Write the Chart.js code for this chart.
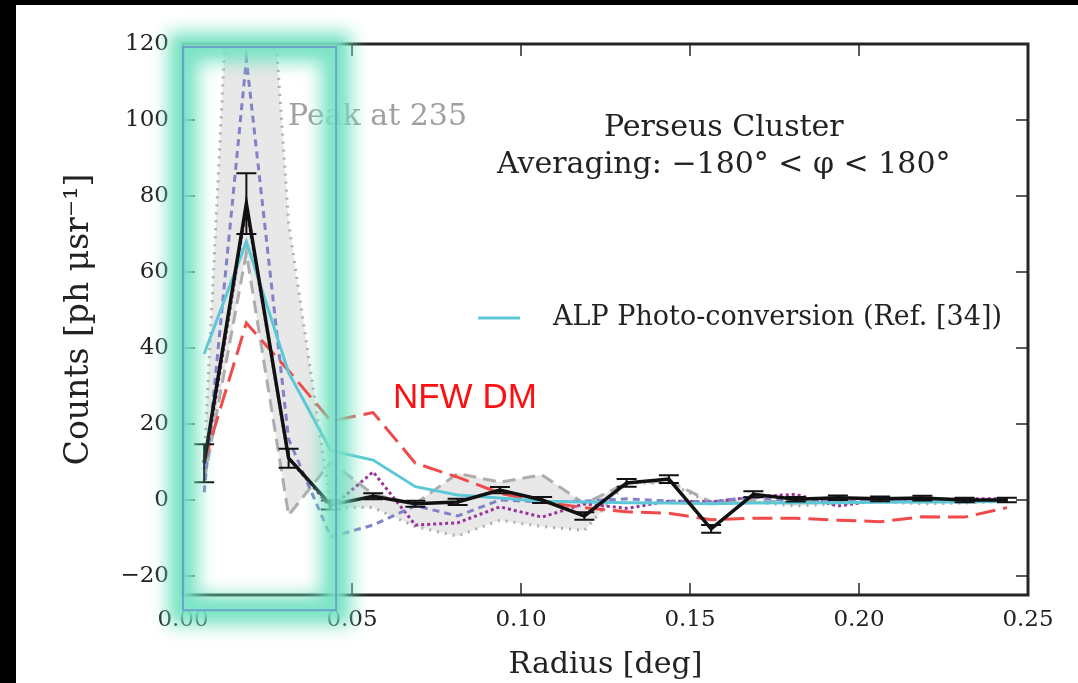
<!DOCTYPE html>
<html>
<head>
<meta charset="utf-8">
<title>Perseus Cluster radial profile</title>
<script src="https://cdn.jsdelivr.net/npm/chart.js@4.4.0/dist/chart.umd.min.js"></script>
<style>
  html, body { margin: 0; padding: 0; background: #fff; }
  #wrap { width: 1078px; height: 683px; position: relative; }
</style>
</head>
<body>
<div id="wrap"><canvas id="profile"></canvas></div>
<script>
// bin centres (deg)
const radius = [0.00625, 0.01875, 0.03125, 0.04375, 0.05625, 0.06875, 0.08125, 0.09375, 0.10625, 0.11875,
                0.13125, 0.14375, 0.15625, 0.16875, 0.18125, 0.19375, 0.20625, 0.21875, 0.23125, 0.24375];

// measured counts + error bars
const counts    = [9.7, 78, 11, -1.3, 1, -1, -0.5, 2.6, 0, -4.2, 4.5, 5.5, -7.6, 1.5, 0.2, 0.6, 0.3, 0.5, 0, 0];
const countsErr = [5, 8, 2.5, 1.2, 0.8, 0.8, 0.8, 0.8, 0.8, 1, 1, 1, 1, 0.8, 0.6, 0.6, 0.6, 0.6, 0.6, 0.6];

// models
const alpConv = [38.4, 68, 33.5, 13, 10.5, 3.5, 1.3, 0.5, -0.3, -0.5, -0.7, -0.8, -1, -0.8, -0.7, -0.7, -0.6, -0.5, -0.5, -0.3];
const nfwDm   = [10, 46.6, 34, 20.8, 23, 9.7, 6, 1.8, -0.5, -2, -3.1, -3.5, -5.2, -4.8, -4.8, -5.3, -5.7, -4.4, -4.5, -2];
const dashedModel = [2, 116, 16, -9.7, -6.6, -1.5, -4.2, 0, -0.5, -0.3, 0.3, -0.3, -0.5, 0.8, -0.4, -0.4, -0.4, -0.3, -0.2, 0];
const dottedModel = [8, 77, 11, -2, 7.4, -6.6, -6, -1.8, -4.5, -1, -2.2, -0.3, -0.5, 0.8, 1.5, -1.6, 0, 0, 0.3, 0.3];

// grey band edges
const bandDotted = [10, 235, 73, -2, -2, -7, -9.5, -5.3, -7, -8, 4.5, 4.5, -1, -0.5, -1.6, -1, -0.5, -1, -0.8, -0.3];
const bandDashed = [5, 65, -4, 10, 1.5, -1, 7, 4.7, 6.6, -1, 4.5, 5, -0.5, 0, -0.8, 0, 0.3, 0, 0, 0];

const xTicks = [0, 0.05, 0.10, 0.15, 0.20, 0.25];
const yTicks = [-20, 0, 20, 40, 60, 80, 100, 120];

const serif = '"DejaVu Serif", serif';

function pts(arr) {
    return arr.map((v, i) => ({ x: radius[i], y: v }));
}

// text placed in data units
const notes = [
    { text: 'Peak at 235', x: 0.0311, y: 100.8, align: 'left', font: '30px ' + serif, color: '#a0a0a0' },
    { text: 'Perseus Cluster', x: 0.160, y: 97.9, align: 'center', font: '30px ' + serif, color: '#222' },
    { text: 'Averaging: \u2212180\u00b0 < \u03c6 < 180\u00b0', x: 0.160, y: 88.2, align: 'center', font: '30px ' + serif, color: '#222' },
    { text: 'NFW DM', x: 0.0834, y: 26.8, align: 'center', font: '35px "Liberation Sans", Arial, sans-serif', color: '#ff1010' }
];
const legendLine = { x0: 0.0873, x1: 0.0997, y: 47.9, textX: 0.1095 };
const glowBox = { x0: 0, x1: 0.0453, y0: -29, y1: 119.2 };

const decor = {
    id: 'decor',
    beforeDraw(chart) {
        const ctx = chart.ctx;
        ctx.save();
        ctx.fillStyle = '#fff';
        ctx.fillRect(0, 0, chart.width, chart.height);
        ctx.fillStyle = '#000';
        ctx.fillRect(0, 0, chart.width, 5);
        ctx.fillRect(0, 0, 16, chart.height);
        ctx.restore();
    },
    afterDatasetsDraw(chart) {
        // error bars on the measured profile
        const ctx = chart.ctx;
        const xs = chart.scales.x, ys = chart.scales.y;
        ctx.save();
        ctx.strokeStyle = '#111';
        ctx.lineWidth = 2;
        counts.forEach((v, i) => {
            const px = xs.getPixelForValue(radius[i]);
            const top = ys.getPixelForValue(v + countsErr[i]);
            const bot = ys.getPixelForValue(v - countsErr[i]);
            ctx.beginPath();
            ctx.moveTo(px, top); ctx.lineTo(px, bot);
            ctx.moveTo(px - 10, top); ctx.lineTo(px + 10, top);
            ctx.moveTo(px - 10, bot); ctx.lineTo(px + 10, bot);
            ctx.stroke();
        });
        ctx.restore();
    },
    afterDraw(chart) {
        const ctx = chart.ctx;
        const a = chart.chartArea;
        const xs = chart.scales.x, ys = chart.scales.y;
        ctx.save();

        // frame with inward ticks
        ctx.strokeStyle = '#262626';
        ctx.lineWidth = 3;
        ctx.strokeRect(a.left, a.top, a.right - a.left, a.bottom - a.top);
        ctx.lineWidth = 1.5;
        ctx.beginPath();
        xTicks.forEach(t => {
            const px = xs.getPixelForValue(t);
            ctx.moveTo(px, a.bottom); ctx.lineTo(px, a.bottom - 12);
            ctx.moveTo(px, a.top); ctx.lineTo(px, a.top + 12);
        });
        yTicks.forEach(t => {
            const py = ys.getPixelForValue(t);
            ctx.moveTo(a.left, py); ctx.lineTo(a.left + 12, py);
            ctx.moveTo(a.right, py); ctx.lineTo(a.right - 12, py);
        });
        ctx.stroke();

        // texts
        ctx.textBaseline = 'middle';
        notes.forEach(n => {
            ctx.font = n.font;
            ctx.fillStyle = n.color;
            ctx.textAlign = n.align;
            ctx.fillText(n.text, xs.getPixelForValue(n.x), ys.getPixelForValue(n.y));
        });

        // legend
        const ly = ys.getPixelForValue(legendLine.y);
        ctx.strokeStyle = '#5cc8d6';
        ctx.lineWidth = 3;
        ctx.beginPath();
        ctx.moveTo(xs.getPixelForValue(legendLine.x0), ly);
        ctx.lineTo(xs.getPixelForValue(legendLine.x1), ly);
        ctx.stroke();
        ctx.font = '27px ' + serif;
        ctx.fillStyle = '#222';
        ctx.textAlign = 'left';
        ctx.fillText('ALP Photo-conversion (Ref. [34])', xs.getPixelForValue(legendLine.textX), ly);

        // glowing highlight box
        const gx0 = xs.getPixelForValue(glowBox.x0), gx1 = xs.getPixelForValue(glowBox.x1);
        const gy0 = ys.getPixelForValue(glowBox.y1), gy1 = ys.getPixelForValue(glowBox.y0);
        ctx.filter = 'blur(9px)';
        ctx.strokeStyle = 'rgba(112, 226, 192, 0.9)';
        ctx.lineWidth = 30;
        ctx.strokeRect(gx0, gy0, gx1 - gx0, gy1 - gy0);
        ctx.filter = 'blur(3px)';
        ctx.strokeStyle = 'rgba(125, 228, 198, 0.55)';
        ctx.lineWidth = 14;
        ctx.strokeRect(gx0, gy0, gx1 - gx0, gy1 - gy0);
        ctx.filter = 'none';
        ctx.strokeStyle = 'rgba(100, 150, 205, 0.8)';
        ctx.lineWidth = 2;
        ctx.strokeRect(gx0, gy0, gx1 - gx0, gy1 - gy0);
        ctx.restore();
    }
};

const ctx = document.getElementById('profile').getContext('2d');
new Chart(ctx, {
    type: 'line',
    data: {
        datasets: [
            {
                label: 'band upper',
                data: pts(bandDotted),
                borderColor: 'rgba(165, 165, 165, 0.9)',
                borderDash: [2, 6],
                borderWidth: 3,
                fill: '+1',
                backgroundColor: 'rgba(200, 200, 200, 0.42)',
                order: 6
            },
            {
                label: 'band lower',
                data: pts(bandDashed),
                borderColor: 'rgba(165, 165, 165, 0.9)',
                borderDash: [13, 7],
                borderWidth: 3,
                fill: false,
                order: 5
            },
            {
                label: 'dotted model',
                data: pts(dottedModel),
                borderColor: '#993399',
                borderDash: [3, 3],
                borderWidth: 3,
                order: 4
            },
            {
                label: 'dashed model',
                data: pts(dashedModel),
                borderColor: '#8282c8',
                borderDash: [7, 5],
                borderWidth: 3,
                order: 3
            },
            {
                label: 'NFW DM',
                data: pts(nfwDm),
                borderColor: '#f04a4a',
                borderDash: [20, 8],
                borderWidth: 3,
                order: 2
            },
            {
                label: 'ALP Photo-conversion (Ref. [34])',
                data: pts(alpConv),
                borderColor: '#5cc8d6',
                borderWidth: 3,
                order: 1
            },
            {
                label: 'Counts',
                data: pts(counts),
                borderColor: '#111',
                borderWidth: 3.5,
                order: 0
            }
        ]
    },
    options: {
        responsive: true,
        maintainAspectRatio: false,
        animation: false,
        layout: { padding: { top: 44, right: 50, left: 0, bottom: 0 } },
        elements: { point: { radius: 0 }, line: { tension: 0, fill: false } },
        plugins: {
            legend: { display: false },
            tooltip: { enabled: false }
        },
        scales: {
            x: {
                type: 'linear',
                min: 0,
                max: 0.25,
                afterFit: s => { s.height = 88; },
                afterBuildTicks: s => { s.ticks = xTicks.map(v => ({ value: v })); },
                grid: { display: false },
                border: { display: false },
                ticks: {
                    padding: 3,
                    maxRotation: 0,
                    color: '#222',
                    font: { family: serif, size: 23 },
                    callback: v => v.toFixed(2)
                },
                title: {
                    display: true,
                    text: 'Radius [deg]',
                    color: '#222',
                    font: { family: serif, size: 30 },
                    padding: { top: 0, bottom: 0 }
                }
            },
            y: {
                min: -25,
                max: 120,
                afterFit: s => { s.width = 183; },
                afterBuildTicks: s => { s.ticks = yTicks.map(v => ({ value: v })); },
                grid: { display: false },
                border: { display: false },
                ticks: {
                    padding: 6,
                    color: '#222',
                    font: { family: serif, size: 23 },
                    callback: v => (v < 0 ? '\u2212' + Math.abs(v) : String(v))
                },
                title: {
                    display: true,
                    text: 'Counts [ph \u03bcsr\u207b\u00b9]',
                    color: '#222',
                    font: { family: serif, size: 33 },
                    padding: { top: 60, bottom: 0 }
                }
            }
        }
    },
    plugins: [decor]
});
</script>
</body>
</html>
